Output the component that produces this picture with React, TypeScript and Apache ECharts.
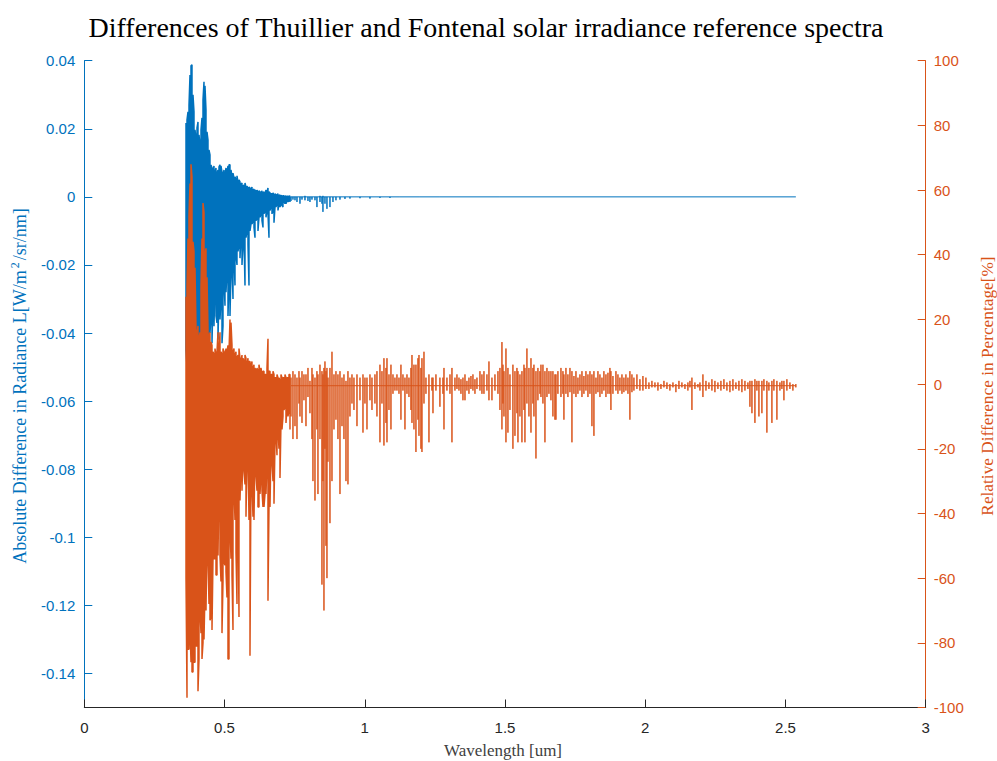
import React, { useEffect, useRef } from "react";
import * as echarts from "echarts";

const BLUE = "#0072BD";
const ORANGE = "#D95319";
const AXIS_GRAY = "#262626";
const SANS = "'Liberation Sans', Arial, Helvetica, sans-serif";
const SERIF = "'Liberation Serif', 'Times New Roman', serif";

const titleText = "Differences of Thuillier and Fontenal solar irradiance reference spectra";
const xName = "Wavelength [um]";
const rightName = "Relative Difference in Percentage[%]";

const xTicks = [0, 0.5, 1, 1.5, 2, 2.5, 3];
const absTicks = [-0.14, -0.12, -0.1, -0.08, -0.06, -0.04, -0.02, 0, 0.02, 0.04];
const relTicks = [-100, -80, -60, -40, -20, 0, 20, 40, 60, 80, 100];

// uniformly sampled dense part of both spectra (0.3626 um onwards)
const denseStartUm = 0.3626;
const denseStepUm = 0.003565;

// baseline levels of the sparse (long-wave) part
const absBaseline = 0;
const relBaseline = -0.5;

// Absolute difference [W/m^2/sr/nm]: upper and lower envelope per sample
const absDenseHigh = [
  0.0217, 0.0226, 0.025, 0.027, 0.0358, 0.0385, 0.0388, 0.03, 0.025, 0.0197,
  0.0173, 0.0203, 0.022, 0.0182, 0.0153, 0.0197, 0.0232, 0.0285, 0.0338, 0.0326,
  0.0255, 0.0191, 0.0167, 0.0138, 0.0123, 0.0094, 0.0085, 0.0079, 0.0091, 0.0073,
  0.0085, 0.0068, 0.0079, 0.0088, 0.0094, 0.0091, 0.0073, 0.0065, 0.0079, 0.0062,
  0.0085, 0.0073, 0.0091, 0.0094, 0.0094, 0.0079, 0.0062, 0.007, 0.0056, 0.0059,
  0.005, 0.0062, 0.0044, 0.005, 0.0044, 0.0038, 0.0041, 0.0032, 0.0035, 0.0041,
  0.0029, 0.0032, 0.0026, 0.0029, 0.0026, 0.0023, 0.0029, 0.002, 0.0023, 0.002,
  0.0018, 0.002, 0.0015, 0.0018, 0.0015, 0.0012, 0.0018, 0.0012, 0.0015, 0.0009,
  0.002, 0.0015, 0.0026, 0.0015, 0.0012, 0.0009, 0.0009, 0.0012, 0.0006, 0.0009,
  0.0006, 0.0006, 0.0009, 0.0003, 0.0006, 0.0003, 0.0004, 0.0003, 0.0003, 0.0002,
  0.0003, 0.0002, 0.0002, 0.0003, 0.0002,
];
const absDenseLow = [
  -0.045, -0.05, -0.04, -0.048, -0.052, -0.045, -0.05, -0.047, -0.043, -0.05,
  -0.046, -0.041, -0.048, -0.044, -0.05, -0.045, -0.04, -0.047, -0.043, -0.046,
  -0.04, -0.044, -0.038, -0.042, -0.04, -0.035, -0.043, -0.03, -0.038, -0.025,
  -0.035, -0.037, -0.042, -0.028, -0.036, -0.03, -0.043, -0.038, -0.025, -0.032,
  -0.028, -0.022, -0.035, -0.025, -0.035, -0.022, -0.02, -0.03, -0.018, -0.026,
  -0.017, -0.02, -0.016, -0.014, -0.018, -0.012, -0.02, -0.014, -0.012, -0.026,
  -0.012, -0.01, -0.014, -0.026, -0.01, -0.008, -0.008, -0.007, -0.009, -0.012,
  -0.007, -0.006, -0.01, -0.006, -0.006, -0.005, -0.007, -0.009, -0.005, -0.004,
  -0.006, -0.004, -0.005, -0.012, -0.004, -0.003, -0.005, -0.004, -0.0076, -0.003,
  -0.003, -0.002, -0.004, -0.002, -0.003, -0.002, -0.0025, -0.003, -0.0015, -0.002,
  -0.002, -0.001, -0.0015, -0.001, -0.0015,
];
// [wavelength um, high, low]
const absTail = [
  [0.7369, 0.0002, -0.0012], [0.7440, 0.0001, -0.0008], [0.7512, 0.0002, -0.001],
  [0.7583, 0.0001, -0.0015], [0.769, 0.0002, -0.002], [0.7762, 0.0001, -0.0008],
  [0.7868, 0.0003, -0.001], [0.7975, 0.0001, -0.0012], [0.8046, 0.0002, -0.0015],
  [0.8118, 0.0001, -0.0008], [0.8225, 0.0002, -0.001], [0.8295, 0.0002, -0.003],
  [0.8403, 0.0003, -0.0015], [0.8474, 0.0001, -0.002], [0.8509, 0.0003, -0.0044],
  [0.8581, 0.0002, -0.002], [0.8652, 0.0002, -0.0035], [0.8759, 0.0002, -0.003],
  [0.8866, 0.0002, -0.0015], [0.8973, 0.0001, -0.001], [0.9116, 0.0002, -0.0008],
  [0.9294, 0.0001, -0.0006], [0.9472, 0.0002, -0.0005], [0.9829, 0.0001, -0.0004],
  [1.0185, 0.0002, -0.0005], [1.0542, 0.0001, -0.0003], [1.0899, 0.0001, -0.0003],
  [1.1255, 0.0001, -0.0002], [1.1968, 0.0001, -0.0002], [1.2681, 0.0001, -0.0001],
  [1.482, 0, 0], [2.537, 0, 0],
];

// Relative difference [%]
const relDenseHigh = [
  27, 30, 45, 52, 62, 68, 64, 44, 41, 36,
  17, 15, 18, 14, 16, 30, 45, 56, 53, 40,
  42, 33, 17, 15, 16, 13, 12, 10, 9, 11,
  9, 10, 16, 9, 16, 10, 9, 11, 10, 9,
  11, 10, 12, 10, 20, 19, 12, 10, 11, 9,
  10, 8, 9, 11, 8, 7, 9, 8, 7, 9,
  8, 6, 8, 7, 7, 6, 7, 5, 6, 5,
  4, 5, 4, 6, 4, 5, 3, 4, 4, 3,
  3, 5, 14, 4, 4, 3, 3, 4, 3, 2,
  2, 3, 2, 2, 1, 3, 2, 2, 2, 3,
  2, 2, 2, 3, 3,
];
const relDenseLow = [
  -60, -97, -82, -82, -75, -86, -89, -89, -86, -86,
  -81, -81, -95, -85, -70, -77, -85, -80, -79, -64,
  -70, -48, -54, -68, -73, -72, -76, -54, -54, -54,
  -59, -59, -53, -31, -53, -61, -77, -61, -55, -56,
  -58, -66, -85, -85, -44, -54, -59, -76, -32, -42,
  -52, -68, -37, -72, -36, -24, -33, -20, -27, -31,
  -41, -24, -20, -42, -84, -27, -31, -41, -42, -20,
  -28, -33, -38, -38, -34, -28, -33, -38, -38, -34,
  -34, -24, -67, -38, -38, -20, -24, -30, -37, -18,
  -15, -22, -14, -20, -29, -12, -14, -10, -8, -7,
  -12, -7, -10, -8, -14,
];
const relTail = [
  [0.7369, 2, -10], [0.744, 4, -17], [0.7512, 3, -13], [0.7583, 2, -17], [0.7654, 4, -6],
  [0.769, 2, -10], [0.7762, 4, -12], [0.7832, 3, -5], [0.7904, 3, -13], [0.7975, 5, -4],
  [0.8046, 1, -9], [0.8118, 5, -17], [0.8153, 3, -30], [0.8225, 2, -36], [0.8295, 4, -14],
  [0.8331, 3, -34], [0.8403, 6, -17], [0.8474, 4, -62], [0.8509, 3, -30], [0.8545, 5, -70],
  [0.8581, 7, -20], [0.8617, 4, -50], [0.8652, 5, -60], [0.8688, 2, -24], [0.8759, 5, -43],
  [0.8831, 10, -30], [0.8902, 3, -14], [0.8973, 4, -11], [0.9044, 3, -17], [0.9116, 4, -34],
  [0.9188, 2, -13], [0.9258, 3, -17], [0.933, 1, -30], [0.9401, 4, -31], [0.9472, 2, -10],
  [0.9544, 3, -6], [0.9615, 2, -8], [0.9722, 3, -13], [0.9829, 2, -5], [0.9936, 3, -15],
  [1.0007, 2, -6], [1.0079, 2, -14], [1.0185, 3, -5], [1.0257, 2, -8], [1.0363, 3, -6],
  [1.0435, 4, -10], [1.0542, 6, -18], [1.0613, 4, -6], [1.0684, 8, -19], [1.0756, 5, -12],
  [1.0792, 8, -18], [1.0863, 3, -8], [1.0934, 6, -14], [1.1006, 3, -3], [1.1076, 2, -2],
  [1.1148, 3, -2], [1.122, 2, -3], [1.129, 6, -11], [1.1362, 3, -2], [1.1433, 2, -14],
  [1.1505, 3, -3], [1.1576, 2, -4], [1.1647, 5, -8], [1.1683, 9, -12], [1.1754, 6, -14],
  [1.1825, 6, -21], [1.1897, 8, -11], [1.1933, 9, -16], [1.2003, 5, -20], [1.2039, 8, -21],
  [1.2111, 10, -6], [1.2182, 2, -3], [1.2289, 3, -18], [1.2396, 2, -2], [1.2432, 2, -9],
  [1.2538, 3, -2], [1.268, 2, -7], [1.2788, 2, -3], [1.2824, 5, -14], [1.293, 2, -2],
  [1.3038, 3, -3], [1.3109, 5, -18], [1.3216, 2, -2], [1.3287, 3, -1.5], [1.3359, 2, -2],
  [1.3429, 1.5, -3], [1.3501, 2, -5], [1.3573, 3, -5], [1.3643, 1, -2], [1.3715, 2, -3],
  [1.3786, 2.5, -1.5], [1.3857, 3, -2], [1.3929, 1.5, -3], [1.4, 2, -1.5], [1.4107, 4, -2],
  [1.4178, 3, -3], [1.425, 4, -3], [1.4356, 3, -2], [1.4428, 7, -5], [1.4535, 2, -5],
  [1.4642, 3, -2], [1.4749, 4, -3], [1.482, 5, -8], [1.4891, 13, -14], [1.4927, 6, -6],
  [1.4963, 4, -10], [1.5034, 11, -18], [1.5105, 5, -15], [1.5177, 3, -8], [1.5283, 6, -20],
  [1.5355, 4, -16], [1.5426, 5, -9], [1.5462, 4, -18], [1.5533, 3, -10], [1.5604, 4, -18],
  [1.5676, 6, -8], [1.5711, 5, -18], [1.5782, 11, -6], [1.5854, 5, -10], [1.5926, 8, -15],
  [1.5996, 5, -6], [1.6032, 6, -10], [1.6104, 4, -23], [1.6174, 5, -5], [1.6246, 4, -3],
  [1.6282, 6, -4], [1.6353, 6, -6], [1.6424, 4, -18], [1.6496, 5, -4], [1.6567, 4, -3],
  [1.6638, 4, -5], [1.6709, 4, -10], [1.6781, 3, -11], [1.6817, 3, -11], [1.6887, 4, -3],
  [1.6995, 5, -4], [1.7066, 4, -3], [1.7101, 3, -11], [1.7173, 5, -3], [1.7244, 3, -4],
  [1.7316, 5, -2.5], [1.7387, 4, -18], [1.7458, 2.5, -3], [1.753, 4, -4], [1.7601, 2, -3],
  [1.7672, 3, -2], [1.7744, 4, -4], [1.7814, 2.5, -3], [1.7886, 4, -2], [1.7958, 3, -4],
  [1.8029, 4, -3], [1.81, 3, -13], [1.8171, 4, -16], [1.8243, 2, -3], [1.8314, 4, -2.5],
  [1.8385, 3, -4], [1.8457, 2, -3], [1.8527, 4, -2], [1.8599, 3, -4], [1.8671, 3.5, -3],
  [1.8741, 5, -3], [1.8777, 4, -8], [1.8849, 2.5, -3], [1.8956, 4, -2], [1.9027, 3, -3],
  [1.9098, 2, -2], [1.917, 3, -3], [1.924, 2, -2.5], [1.9312, 3, -2], [1.9384, 2, -3],
  [1.9454, 4, -11], [1.9526, 3, -2.5], [1.9597, 2, -2], [1.9704, 3, -1.5], [1.9811, 1.5, -2],
  [1.9918, 2.5, -2], [2.0025, 2, -1.5], [2.0132, 0.5, -1.5], [2.0239, 1, -1], [2.0346, 0.5, -1],
  [2.0453, 0.5, -2], [2.056, 0, -1.5], [2.0667, 1, -1], [2.0774, 0.5, -1.5], [2.088, 0, -2],
  [2.0988, 0.5, -1], [2.1094, 0, -2.5], [2.1202, 1, -1.5], [2.1308, 0.5, -1], [2.1416, 0, -1.5],
  [2.1522, 0.5, -2], [2.1594, 1, -1], [2.1665, 2, -8], [2.1772, 0.5, -1.5], [2.1879, 0, -1],
  [2.1951, 0.5, -2], [2.2057, 3, -4], [2.2165, 1, -2], [2.2271, 0.5, -1.5], [2.2378, 1.5, -2],
  [2.2485, 1, -2.5], [2.2592, 0.5, -1.5], [2.2699, 1, -2], [2.2806, 1.5, -1.5], [2.2913, 0.5, -2],
  [2.302, 1, -2.5], [2.3127, 1.5, -2], [2.3234, 0.5, -1.5], [2.3341, 1, -2], [2.3447, 1.5, -2.5],
  [2.3555, 1, -2], [2.3661, 0.5, -1.5], [2.3733, 1, -7], [2.3805, 1, -9], [2.3911, 1.5, -12],
  [2.3982, 1, -2], [2.4054, 1, -10], [2.416, 1, -9], [2.4232, 1.5, -2], [2.4338, 1, -15],
  [2.441, 0.5, -2], [2.4517, 1, -12], [2.4588, 1.5, -2], [2.4695, 1, -11], [2.4802, 0.5, -2],
  [2.4873, 1, -1.5], [2.4945, 1, -5], [2.5051, 1.5, -2], [2.5159, 0.5, -1.5], [2.5265, 0, -2],
  [2.537, 0, -1],
];

// dense part: alternate direction so the connecting segments follow the envelopes
function denseData(high: number[], low: number[]): number[][] {
  const out: number[][] = [];
  high.forEach((h, i) => {
    const w = denseStartUm + i * denseStepUm;
    if (i % 2 === 0) out.push([w, h], [w, low[i]]);
    else out.push([w, low[i]], [w, h]);
  });
  return out;
}
// sparse part: spikes rising from and returning to the baseline
function tailData(rows: number[][], base: number): number[][] {
  const out: number[][] = [];
  for (const [w, hi, lo] of rows) out.push([w, base], [w, hi], [w, lo], [w, base]);
  return out;
}

const absDense = denseData(absDenseHigh, absDenseLow);
const relDense = denseData(relDenseHigh, relDenseLow);
const absSparse = tailData(absTail, absBaseline);
const relSparse = tailData(relTail, relBaseline);

function fmtAbs(v: number): string {
  const r = Number(v.toFixed(2));
  return r === 0 ? "0" : String(r);
}

function lineSeries(name: string, yAxisIndex: number, data: number[][], color: string, width: number) {
  return {
    name,
    type: "line",
    yAxisIndex,
    data,
    symbol: "none",
    showSymbol: false,
    silent: true,
    lineStyle: { color, width },
    itemStyle: { color },
  };
}

export default function App() {
  const ref = useRef<HTMLDivElement>(null);
  useEffect(() => {
    if (!ref.current) return;
    const chart = echarts.init(ref.current, null, { renderer: "svg" });
    chart.setOption({
      animation: false,
      backgroundColor: "#ffffff",
      grid: { left: 84.3, right: 71.3, top: 60.7, bottom: 53.5, containLabel: false },
      xAxis: {
        type: "value",
        min: xTicks[0],
        max: xTicks[xTicks.length - 1],
        interval: 0.5,
        axisLine: { onZero: false, lineStyle: { color: AXIS_GRAY, width: 1 } },
        axisTick: { inside: true, length: 8, lineStyle: { color: AXIS_GRAY, width: 1 } },
        axisLabel: { color: AXIS_GRAY, fontSize: 15, margin: 12, fontFamily: SANS, formatter: (v: number) => String(v) },
        splitLine: { show: false },
      },
      yAxis: [
        {
          type: "value",
          position: "left",
          min: -0.15,
          max: 0.04,
          axisLine: { show: true, onZero: false, lineStyle: { color: BLUE, width: 1 } },
          axisTick: { show: true, inside: true, length: 8, customValues: absTicks, lineStyle: { color: BLUE, width: 1 } },
          axisLabel: { color: BLUE, fontSize: 15, margin: 9, fontFamily: SANS, customValues: absTicks, formatter: fmtAbs },
          splitLine: { show: false },
        },
        {
          type: "value",
          position: "right",
          min: relTicks[0],
          max: relTicks[relTicks.length - 1],
          interval: 20,
          axisLine: { show: true, onZero: false, lineStyle: { color: ORANGE, width: 1 } },
          axisTick: { show: true, inside: true, length: 8, lineStyle: { color: ORANGE, width: 1 } },
          axisLabel: { color: ORANGE, fontSize: 15, margin: 8, fontFamily: SANS },
          splitLine: { show: false },
        },
      ],
      series: [
        lineSeries("Absolute (dense)", 0, absDense, BLUE, 1.5),
        lineSeries("Absolute", 0, absSparse, BLUE, 1),
        lineSeries("Relative (dense)", 1, relDense, ORANGE, 1.5),
        lineSeries("Relative", 1, relSparse, ORANGE, 1),
      ],
      graphic: [
        {
          type: "text",
          x: 486,
          y: 27,
          style: { text: titleText, fontSize: 28, fontFamily: SERIF, fill: "#000000", textAlign: "center", textVerticalAlign: "middle" },
        },
        {
          type: "text",
          x: 503,
          y: 750,
          style: { text: xName, fontSize: 17, fontFamily: SERIF, fill: "#404040", textAlign: "center", textVerticalAlign: "middle" },
        },
        {
          type: "text",
          x: 20,
          y: 386,
          rotation: Math.PI / 2,
          style: {
            text: "{a|Absolute Difference in Radiance L[W/m}{s|2}{a|/sr/nm]}",
            textAlign: "center",
            textVerticalAlign: "middle",
            rich: {
              a: { fontSize: 18, fontFamily: SERIF, fill: BLUE, lineHeight: 22 },
              s: { fontSize: 12, fontFamily: SERIF, fill: BLUE, lineHeight: 22, verticalAlign: "top", padding: [0, 2, 9, 2] },
            },
          },
        },
        {
          type: "text",
          x: 987,
          y: 386,
          rotation: Math.PI / 2,
          style: { text: rightName, fontSize: 17.3, fontFamily: SERIF, fill: ORANGE, textAlign: "center", textVerticalAlign: "middle" },
        },
      ],
    });
    return () => chart.dispose();
  }, []);
  return <div ref={ref} style={{ position: "absolute", left: 0, top: 0, width: 997, height: 761 }} />;
}
